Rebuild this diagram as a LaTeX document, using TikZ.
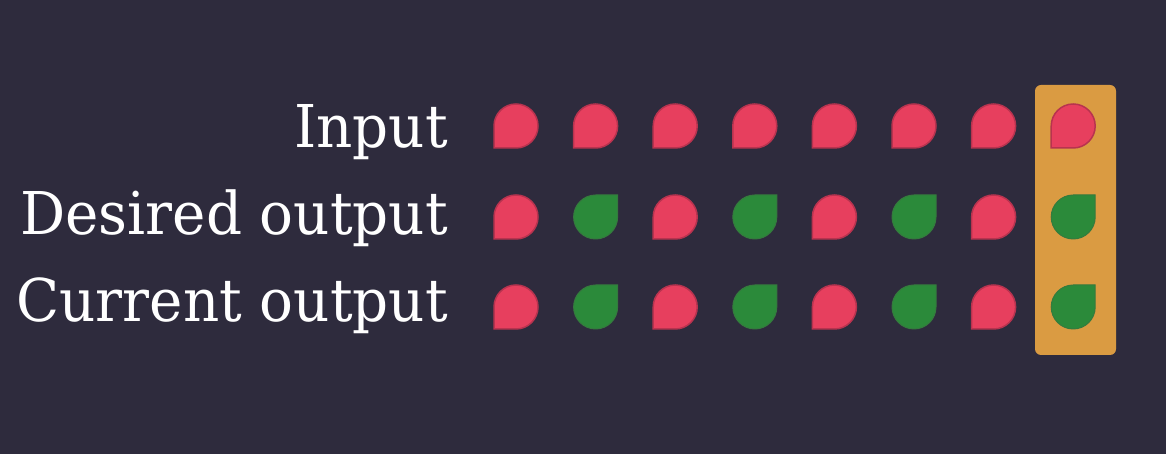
\documentclass[tikz,border=0pt]{standalone}
\usepackage{fontspec}
\setmainfont[FakeStretch=0.955]{DejaVu Serif}
\usepackage{tikz}
\usetikzlibrary{positioning}
\definecolor{bgdark}{HTML}{2E2B3D}
\definecolor{tearred}{HTML}{E73F5E}
\definecolor{redrim}{HTML}{B8334F}
\definecolor{teargreen}{HTML}{2B8A3A}
\definecolor{greenrim}{HTML}{357A3E}
\definecolor{boxorange}{HTML}{DA9B42}
\begin{document}
\begin{tikzpicture}[x=1pt,y=1pt]
    \useasboundingbox[fill=bgdark] (0,0) rectangle (1166,454);

    \tikzset{every node/.style={text=white,inner sep=0pt,font=\fontsize{59}{59}\selectfont},
        redtear/.pic={\path[fill=tearred,draw=redrim,line width=1.5pt]
            (-22,-22) -- (-22,0) arc (180:-90:22) -- cycle;},
        greentear/.pic={\path[fill=teargreen,draw=greenrim,line width=1pt]
            (22,22) -- (0,22) arc (90:360:22) -- cycle;}}
    \node[anchor=base east] at (448,306) (input  ) {Input};
    \node[anchor=base east] at (448,219) (desired) {Desired output};
    \node[anchor=base east] at (448,132) (current) {Current output};

    \fill[boxorange,rounded corners=6pt] (1035,99) rectangle (1116,369);

    \foreach \i in {0,...,7} \pic at ({516+79.6*\i},328) {redtear};
    \foreach \i in {0,2,4,6} {
        \pic at ({516+79.6*\i},237) {redtear};
        \pic at ({516+79.6*\i},147) {redtear};
    }
    \foreach \i in {1,3,5,7} {
        \pic at ({516+79.6*\i},237) {greentear};
        \pic at ({516+79.6*\i},147) {greentear};
    }
\end{tikzpicture}
\end{document}
